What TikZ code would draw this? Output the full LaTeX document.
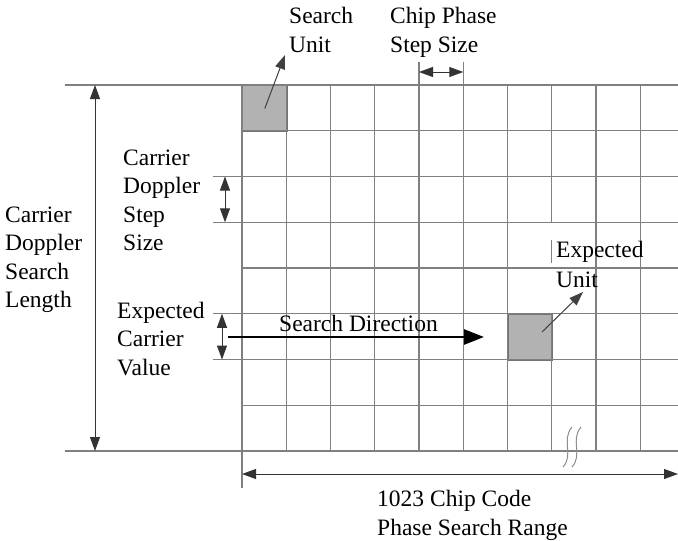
\documentclass[tikz,border=0pt]{standalone}
\usepackage{fontspec}
\setmainfont{Liberation Serif}
\usetikzlibrary{arrows.meta}
\begin{document}
\begin{tikzpicture}[x=1pt,y=-1pt,
  gridline/.style={draw=black!50, line width=1.3pt},
  dimline/.style={draw=black!80, line width=1pt,
    {Triangle[length=14pt,width=10pt]}-{Triangle[length=14pt,width=10pt]}},
  pointer/.style={draw=black!75, line width=1pt, -{Triangle[length=14pt,width=10pt]}},
  bigarrow/.style={draw=black, line width=2.6pt, -{Triangle[length=20pt,width=15pt]}},
  lbl/.style={anchor=base west, inner sep=0pt, font=\fontsize{23.5}{28.5}\selectfont, text=black},
  unitbox/.style={fill=black!30, draw=black!55, line width=1.3pt, anchor=north west,
    inner sep=0pt, minimum width=44.25pt, minimum height=45.75pt},
  breakmark/.style={draw=black!45, line width=1pt}]
\useasboundingbox (0,0) rectangle (678,541);

% shaded units
\node[unitbox] (su) at (242,85) {};
\node[unitbox] (eu) at (507.5,313.75) {};

% horizontal grid lines
\draw[gridline] (65,85) -- (678,85);
\draw[gridline] (242,130.75) -- (678,130.75);
\draw[gridline] (213,176.5) -- (678,176.5);
\draw[gridline] (213,222.25) -- (678,222.25);
\draw[gridline] (242,268) -- (678,268);
\draw[gridline] (213,313.75) -- (678,313.75);
\draw[gridline] (213,359.5) -- (678,359.5);
\draw[gridline] (242,405.25) -- (678,405.25);
\draw[gridline] (65,451) -- (678,451);

% vertical grid lines
\draw[gridline] (242,85) -- (242,488);
\foreach \i in {1,2,3,6,8,9} {
  \draw[gridline] ({242+44.25*\i},85) -- ({242+44.25*\i},451);
}
\draw[gridline] (419,62) -- (419,451);
\draw[gridline] (463.25,62) -- (463.25,451);
\draw[gridline] (551.75,85) -- (551.75,223);
\draw[gridline] (551.75,240) -- (551.75,263);
\draw[gridline] (551.75,313.75) -- (551.75,451);

% break marks
\draw[breakmark] (572,427) .. controls (561,440) and (574,455) .. (563,467);
\draw[breakmark] (581,427) .. controls (570,440) and (583,455) .. (572,467);

% dimension arrows
\coordinate (csl1) at (95,85);
\coordinate (csl2) at (95,451);
\draw[dimline] (csl1) -- (csl2);
\coordinate (cds1) at (225,176.5);
\coordinate (cds2) at (225,222.25);
\draw[dimline] (cds1) -- (cds2);
\coordinate (ecv1) at (222,313.75);
\coordinate (ecv2) at (222,359.5);
\draw[dimline] (ecv1) -- (ecv2);
\coordinate (cps1) at (419,72);
\coordinate (cps2) at (463.25,72);
\draw[dimline] (cps1) -- (cps2);
\coordinate (ccr1) at (242,474);
\coordinate (ccr2) at (678,474);
\draw[dimline] (ccr1) -- (ccr2);

% search direction
\coordinate (sd1) at (228,337);
\coordinate (sd2) at (484,337);
\draw[bigarrow] (sd1) -- (sd2);

% pointers
\coordinate (sutip) at (285,55);
\draw[pointer] (su.center) -- (sutip);
\coordinate (eufrom) at (542,332);
\coordinate (eutip) at (583,292);
\draw[pointer] (eufrom) -- (eutip);

% labels
\node[lbl] (t1a) at (289,23) {Search};
\node[lbl] (t1b) at (289,52) {Unit};
\node[lbl] (t2a) at (390,23) {Chip Phase};
\node[lbl] (t2b) at (390,52) {Step Size};
\node[lbl] (t3a) at (123,165) {Carrier};
\node[lbl] (t3b) at (123,193.5) {Doppler};
\node[lbl] (t3c) at (123,222) {Step};
\node[lbl] (t3d) at (123,250.5) {Size};
\node[lbl] (t4a) at (5,222) {Carrier};
\node[lbl] (t4b) at (5,250.5) {Doppler};
\node[lbl] (t4c) at (5,279) {Search};
\node[lbl] (t4d) at (5,307.5) {Length};
\node[lbl] (t5a) at (117,318) {Expected};
\node[lbl] (t5b) at (117,346.5) {Carrier};
\node[lbl] (t5c) at (117,375) {Value};
\node[lbl] (t6) at (279,331) {Search Direction};
\node[lbl] (t7a) at (556,257) {Expected};
\node[lbl] (t7b) at (556,287) {Unit};
\node[lbl] (t8a) at (377,506) {1023 Chip Code};
\node[lbl] (t8b) at (377,535) {Phase Search Range};
\end{tikzpicture}
\end{document}
